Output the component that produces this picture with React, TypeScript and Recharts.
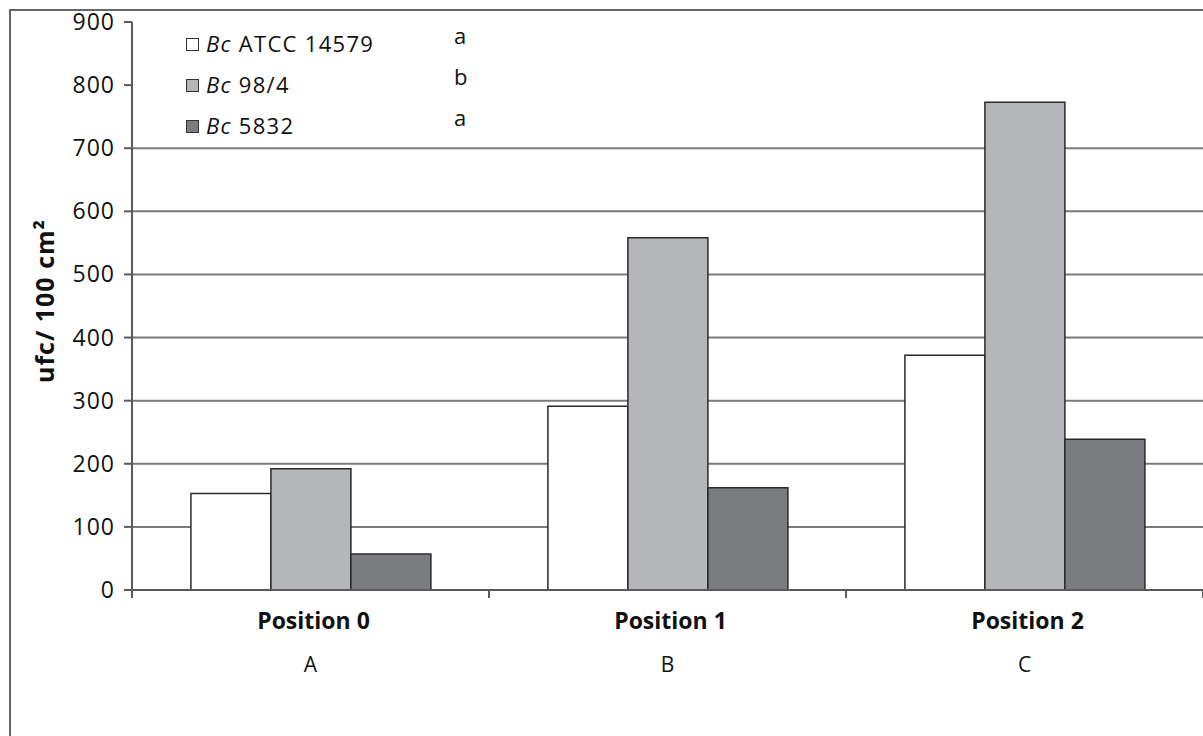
import React from 'react';
import { BarChart, Bar, XAxis, YAxis, CartesianGrid, Legend } from 'recharts';

const categories = ['Position 0', 'Position 1', 'Position 2'];
const groupLetters = ['A', 'B', 'C'];
const seriesNames = ['Bc ATCC 14579', 'Bc 98/4', 'Bc 5832'];
const seriesLetters = ['a', 'b', 'a'];
const atcc14579 = [153, 291, 372];
const bc984 = [192, 558, 773];
const bc5832 = [57, 162, 239];
const yTicks = [0, 100, 200, 300, 400, 500, 600, 700, 800, 900];
const gridValues = [100, 200, 300, 400, 500, 600, 700];
const seriesKeys = ['atcc', 'b984', 'b5832'];
const colors = ['#ffffff', '#b5b6b9', '#7b7c80'];

const data = categories.map((c, i) => ({
  name: c,
  atcc: atcc14579[i],
  b984: bc984[i],
  b5832: bc5832[i],
}));

const FONT = '"Open Sans", "DejaVu Sans", sans-serif';
const AXIS = '#5a5a5a';

const XTick = (props: any) => {
  const { x, y, payload, index, width, visibleTicksCount } = props;
  const band = width / (visibleTicksCount || categories.length);
  const isLast = index === categories.length - 1;
  return (
    <g>
      <line x1={x - band / 2} x2={x - band / 2} y1={y} y2={y + 8} stroke={AXIS} strokeWidth={2} />
      {isLast && <line x1={x + band / 2} x2={x + band / 2} y1={y} y2={y + 8} stroke={AXIS} strokeWidth={2} />}
      <text x={x + 3} y={y + 39} textAnchor="middle" fontFamily={FONT} fontWeight={700} fontSize={23} fill="#111">
        {payload.value}
      </text>
      <text x={x} y={y + 82} textAnchor="middle" fontFamily={FONT} fontSize={21} fill="#111">
        {groupLetters[index]}
      </text>
    </g>
  );
};

const YTick = (props: any) => {
  const { x, y, payload } = props;
  return (
    <text x={x} y={y} dy={8} textAnchor="end" fontFamily={FONT} fontSize={23} letterSpacing={1} fill="#111">
      {payload.value}
    </text>
  );
};

const YLabel = (props: any) => {
  const vb = props.viewBox || { x: 10, y: 22, width: 122, height: 568 };
  const cx = vb.x + 34;
  const cy = vb.y + vb.height / 2 - 5;
  return (
    <text
      x={cx}
      y={cy}
      transform={`rotate(-90, ${cx}, ${cy})`}
      textAnchor="middle"
      dominantBaseline="central"
      fontFamily={FONT}
      fontWeight={700}
      fontSize={25}
      letterSpacing={1}
      fill="#111"
    >
      ufc/ 100 cm²
    </text>
  );
};

const LegendContent = () => (
  <div style={{ fontFamily: FONT, fontSize: 22, color: '#111', width: 300, letterSpacing: 1.3 }}>
    {seriesNames.map((n, i) => {
      const rest = n.replace(/^Bc\s*/, '');
      return (
        <div key={n} style={{ position: 'relative', height: 41 }}>
          <span
            style={{
              position: 'absolute',
              left: 0,
              top: 13,
              width: 11,
              height: 11,
              background: colors[i],
              border: '1.5px solid #333',
            }}
          />
          <span style={{ position: 'absolute', left: 20, top: 0, whiteSpace: 'nowrap', lineHeight: '36px' }}>
            <i>Bc</i> {rest}
          </span>
          <span style={{ position: 'absolute', left: 268, top: -8, lineHeight: '36px' }}>{seriesLetters[i]}</span>
        </div>
      );
    })}
  </div>
);

export default function App() {
  return (
    <div
      style={{
        position: 'fixed',
        left: 0,
        top: 0,
        width: 1203,
        height: 736,
        overflow: 'hidden',
        background: '#fff',
      }}
    >
      <div
        style={{
          position: 'absolute',
          left: 9,
          top: 9,
          width: 1400,
          height: 900,
          borderLeft: '2px solid #666',
          borderTop: '2px solid #666',
          pointerEvents: 'none',
        }}
      />
      <BarChart
        width={1203}
        height={736}
        data={data}
        margin={{ top: 22, right: 0, bottom: 0, left: 10 }}
        barCategoryGap="16.5%"
        barGap={0}
      >
        <CartesianGrid horizontal vertical={false} horizontalValues={gridValues} stroke="#7a7a7a" strokeWidth={2} />
        <XAxis
          dataKey="name"
          height={146}
          axisLine={{ stroke: AXIS, strokeWidth: 2 }}
          tickLine={false}
          tickSize={0}
          tickMargin={0}
          interval={0}
          tick={<XTick />}
        />
        <YAxis
          width={122}
          domain={[0, 900]}
          ticks={yTicks}
          interval={0}
          axisLine={{ stroke: AXIS, strokeWidth: 2 }}
          tickLine={{ stroke: AXIS, strokeWidth: 2 }}
          tickSize={8}
          tickMargin={9}
          tick={<YTick />}
          label={<YLabel />}
        />
        <Legend
          layout="vertical"
          align="center"
          verticalAlign="middle"
          content={<LegendContent />}
          wrapperStyle={{ position: 'absolute', left: 186, top: 25, width: 300 }}
        />
        {seriesKeys.map((k, i) => (
          <Bar
            key={k}
            dataKey={k}
            name={seriesNames[i]}
            fill={colors[i]}
            stroke="#2a2a2a"
            strokeWidth={1.5}
            isAnimationActive={false}
          />
        ))}
      </BarChart>
    </div>
  );
}
